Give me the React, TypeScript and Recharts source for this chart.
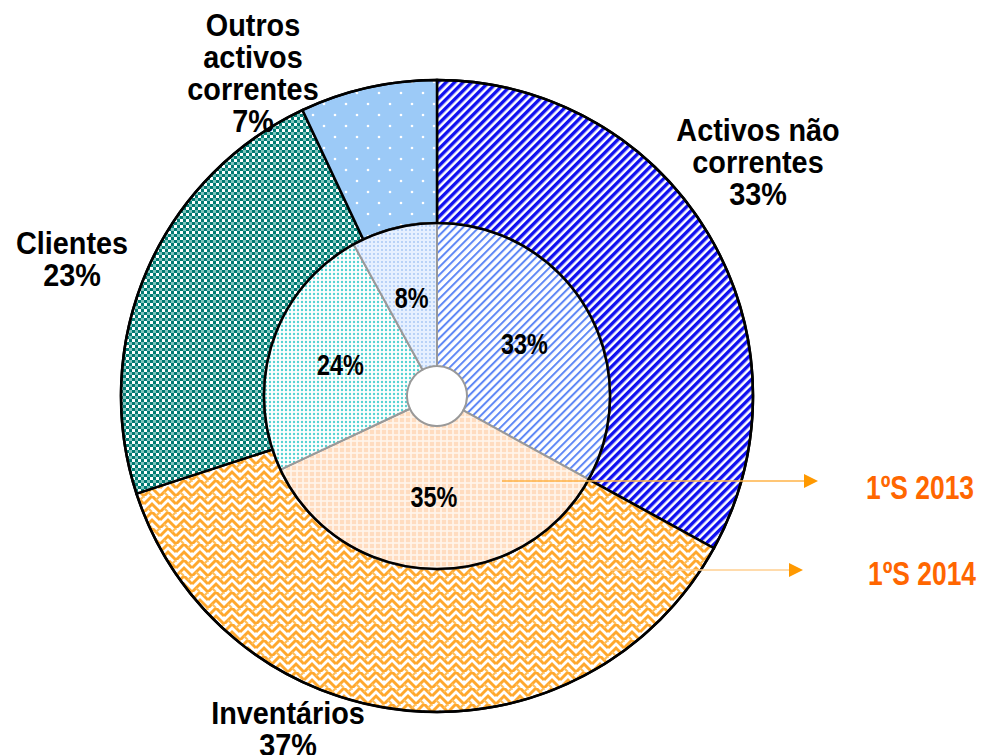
import React from 'react';
import { PieChart, Pie, Cell } from 'recharts';

// 1ºS 2014 (outer ring) and 1ºS 2013 (inner ring), clockwise from 12 o'clock
const categories = ['Activos não correntes', 'Inventários', 'Clientes', 'Outros activos correntes'];
const values2014 = [33, 37, 23, 7];
const values2013 = [33, 35, 24, 8];
const seriesNames = ['1ºS 2013', '1ºS 2014'];

const outerData = categories.map((name, i) => ({ name, value: values2014[i] }));
const innerData = categories.map((name, i) => ({ name, value: values2013[i] }));

const outerFills = ['url(#pBlue)', 'url(#pWeave)', 'url(#pTeal)', 'url(#pSky)'];
const innerFills = ['url(#pBlueLight)', 'url(#pPeach)', 'url(#pCyan)', 'url(#pSkyLight)'];

const FONT = '"Liberation Sans", Arial, sans-serif';

const CX = 437;
const CY = 396;
const R_HOLE = 30;
const R_MID = 173;
const R_OUT = 316;

// outer label anchor points (manually placed in the original)
const outerLabelPos: { x: number; y: number; lines: string[] }[] = [
  { x: 758, y: 130, lines: ['Activos não', 'correntes'] },
  { x: 288, y: 713, lines: ['Inventários'] },
  { x: 72, y: 243, lines: ['Clientes'] },
  { x: 253, y: 25, lines: ['Outros', 'activos', 'correntes'] },
];

const RAD = Math.PI / 180;

// narrow bold text (Arial Narrow look) by squeezing horizontally
const NarrowText = ({ x, y, size, sx, fill = '#000', children }: any) => (
  <text transform={`translate(${x},${y}) scale(${sx},1)`} textAnchor="middle" dominantBaseline="central"
    fontFamily={FONT} fontWeight="bold" fontSize={size} fill={fill}>
    {children}
  </text>
);

const renderInner = (props: any) => {
  const { cx, cy, midAngle, innerRadius, outerRadius, value } = props;
  const r = (innerRadius + outerRadius) / 2;
  const x = cx + r * Math.cos(-midAngle * RAD);
  const y = cy + r * Math.sin(-midAngle * RAD);
  return <NarrowText x={x} y={y} size={30} sx={0.78}>{value}%</NarrowText>;
};

const Patterns = () => (
  <svg width={0} height={0} style={{ position: 'absolute' }}>
    <defs>
      <pattern id="pBlue" patternUnits="userSpaceOnUse" width={6} height={6} patternTransform="rotate(45)">
        <rect width={6} height={6} fill="#ffffff" />
        <rect width={3.4} height={6} fill="#1010f0" />
      </pattern>
      <pattern id="pBlueLight" patternUnits="userSpaceOnUse" width={5.6} height={5.6} patternTransform="rotate(45)">
        <rect width={5.6} height={5.6} fill="#ffffff" />
        <rect width={2} height={5.6} fill="#5f88f5" />
      </pattern>
      <pattern id="pTeal" patternUnits="userSpaceOnUse" width={6} height={6}>
        <rect width={6} height={6} fill="#ffffff" />
        <rect x={0} y={0} width={3} height={3} fill="#007a72" />
        <rect x={3} y={3} width={3} height={3} fill="#007a72" />
        <rect x={3} y={0} width={3} height={3} fill="#7fc4bd" />
      </pattern>
      <pattern id="pSky" patternUnits="userSpaceOnUse" width={22} height={22}>
        <rect width={22} height={22} fill="#9ccaf7" />
        <circle cx={5} cy={5} r={1.3} fill="#ffffff" />
        <circle cx={16} cy={16} r={1.3} fill="#ffffff" />
      </pattern>
      <pattern id="pSkyLight" patternUnits="userSpaceOnUse" width={4} height={4}>
        <rect width={4} height={4} fill="#e6f0ff" />
        <circle cx={2} cy={2} r={1} fill="#a9c9f5" />
      </pattern>
      <pattern id="pCyan" patternUnits="userSpaceOnUse" width={4} height={4}>
        <rect width={4} height={4} fill="#ffffff" />
        <circle cx={2} cy={2} r={1.2} fill="#55d2d2" />
      </pattern>
      <pattern id="pPeach" patternUnits="userSpaceOnUse" width={6} height={6}>
        <rect width={6} height={6} fill="#ffdcbf" />
        <rect x={2} y={0} width={2} height={6} fill="#fff1e4" />
        <rect x={0} y={2} width={6} height={2} fill="#fff1e4" />
        <rect x={2.5} y={2.5} width={1} height={1} fill="#ffffff" />
      </pattern>
      <pattern id="pWeave" patternUnits="userSpaceOnUse" width={16} height={16}>
        <rect width={16} height={16} fill="#ffffff" />
        <path d="M0 8 L8 0 L16 8 M0 16 L8 8 L16 16 M-4 4 L0 0 M12 -4 L16 0"
          stroke="#ffa82e" strokeWidth={3} fill="none" />
        <path d="M4 12 L8 16 M12 4 L16 0" stroke="#ffbf5c" strokeWidth={2.2} fill="none" />
      </pattern>
    </defs>
  </svg>
);

const Arrow = ({ x1, x2, y, color }: { x1: number; x2: number; y: number; color: string }) => (
  <g>
    <line x1={x1} y1={y} x2={x2 - 12} y2={y} stroke={color} strokeWidth={1.5} />
    <polygon points={`${x2 - 14},${y - 7} ${x2},${y} ${x2 - 14},${y + 7}`} fill="#ff9900" />
  </g>
);

export default function App() {
  return (
    <div style={{ position: 'absolute', left: 0, top: 0, width: 986, height: 755, background: '#fff' }}>
      <Patterns />
      <PieChart width={986} height={755} margin={{ top: 0, right: 0, bottom: 0, left: 0 }}>
        <Pie
          data={outerData}
          dataKey="value"
          cx={CX}
          cy={CY}
          innerRadius={R_MID}
          outerRadius={R_OUT}
          startAngle={90}
          endAngle={-270}
          stroke="#000"
          strokeWidth={2.5}
          isAnimationActive={false}
          label={false}
          labelLine={false}
        >
          {outerData.map((d, i) => (
            <Cell key={d.name} fill={outerFills[i]} />
          ))}
        </Pie>
        <Pie
          data={innerData}
          dataKey="value"
          cx={CX}
          cy={CY}
          innerRadius={R_HOLE}
          outerRadius={R_MID}
          startAngle={90}
          endAngle={-270}
          stroke="#999"
          strokeWidth={2}
          isAnimationActive={false}
          label={renderInner}
          labelLine={false}
        >
          {innerData.map((d, i) => (
            <Cell key={d.name} fill={innerFills[i]} />
          ))}
        </Pie>
      </PieChart>
      <svg width={986} height={755} style={{ position: 'absolute', left: 0, top: 0, pointerEvents: 'none' }}>
        <circle cx={CX} cy={CY} r={R_MID} fill="none" stroke="#000" strokeWidth={2.5} />
        <circle cx={CX} cy={CY} r={R_OUT} fill="none" stroke="#000" strokeWidth={2.5} />
        <Arrow x1={502} x2={818} y={481} color="#ffb347" />
        <Arrow x1={610} x2={803} y={570} color="#ffcf90" />
        <NarrowText x={920} y={487} size={33} sx={0.8} fill="#ff6600">{seriesNames[0]}</NarrowText>
        <NarrowText x={922} y={573} size={33} sx={0.8} fill="#ff6600">{seriesNames[1]}</NarrowText>
        {outerLabelPos.map((p, i) =>
          [...p.lines, `${values2014[i]}%`].map((ln, j) => (
            <NarrowText key={`${i}-${j}`} x={p.x} y={p.y + j * 32} size={31} sx={0.93}>{ln}</NarrowText>
          ))
        )}
      </svg>
    </div>
  );
}
